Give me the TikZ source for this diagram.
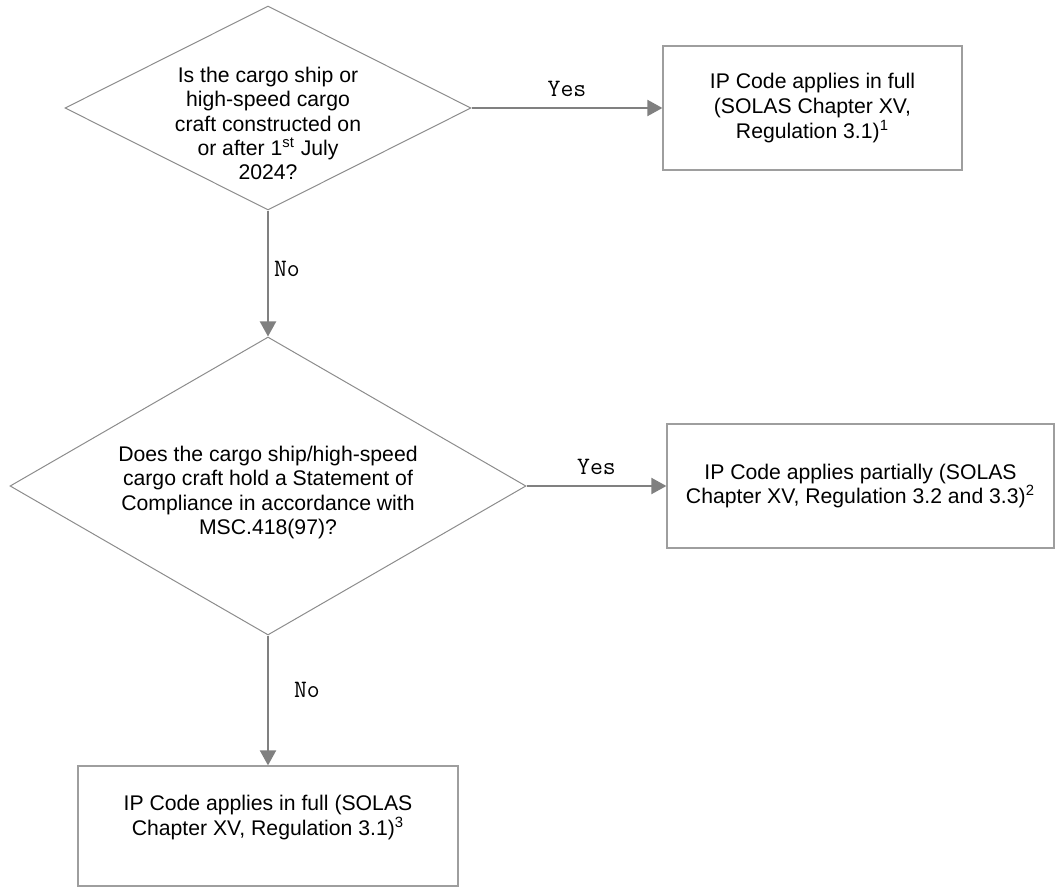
\documentclass[tikz,border=0pt]{standalone}
\usepackage{fontspec}
\setmainfont{Liberation Sans}
\usetikzlibrary{shapes.geometric, arrows.meta}

\begin{document}
\begin{tikzpicture}[x=0.5pt, y=-0.5pt,
    decision/.style={diamond, draw=black!45, line width=0.5pt, inner sep=0pt},
    outcome/.style={rectangle, draw=black!38, line width=0.6pt, inner sep=0pt, align=center, font=\fontsize{10.6}{12.3}\selectfont},
    qtext/.style={align=center, inner sep=0pt, font=\fontsize{10.6}{12.2}\selectfont},
    flow/.style={draw=black!50, line width=1pt, -{Triangle[length=7.5pt, width=8pt]}},
    answer/.style={inner sep=2pt, font=\ttfamily\fontsize{12.5}{14}\selectfont}]
    \useasboundingbox (0,0) rectangle (1056,888);

    % Decisions
    \node[decision, minimum width=203pt, minimum height=102pt] (q1) at (268,108) {};
    \node[decision, minimum width=258pt, minimum height=149pt] (q2) at (268,486) {};
    \node[qtext] (q1t) at ([yshift=-7.8pt]q1.center) {Is the cargo ship or\\high-speed cargo\\craft constructed on\\or after 1\textsuperscript{st} July\\2024?};
    \node[qtext] (q2t) at ([yshift=-3.2pt]q2.center) {Does the cargo ship/high-speed\\cargo craft hold a Statement of\\Compliance in accordance with\\MSC.418(97)?};

    % Outcomes
    \node[outcome, minimum width=149.5pt, minimum height=62pt] (b1) at (812.5,108) {IP Code applies in full\\(SOLAS Chapter XV,\\Regulation 3.1)\textsuperscript{1}};
    \node[outcome, minimum width=193.5pt, minimum height=62pt] (b2) at (860.5,486) {IP Code applies partially (SOLAS\\Chapter XV, Regulation 3.2 and 3.3)\textsuperscript{2}};
    \node[outcome, minimum width=190pt, minimum height=60pt] (b3) at (268,826) {};
    \node[qtext] (b3t) at ([yshift=4.2pt]b3.center) {IP Code applies in full (SOLAS\\Chapter XV, Regulation 3.1)\textsuperscript{3}};

    % Arrows with answers
    \draw[flow] (q1) -- (b1) node[answer, midway, above=3pt] (yes1) {Yes};
    \draw[flow] (q1) -- (q2) node[answer, pos=0.46, right=0.5pt] (no1) {No};
    \draw[flow] (q2) -- (b2) node[answer, midway, above=3pt] (yes2) {Yes};
    \draw[flow] (q2) -- (b3) node[answer, pos=0.42, right=10.5pt] (no2) {No};

\end{tikzpicture}
\end{document}
